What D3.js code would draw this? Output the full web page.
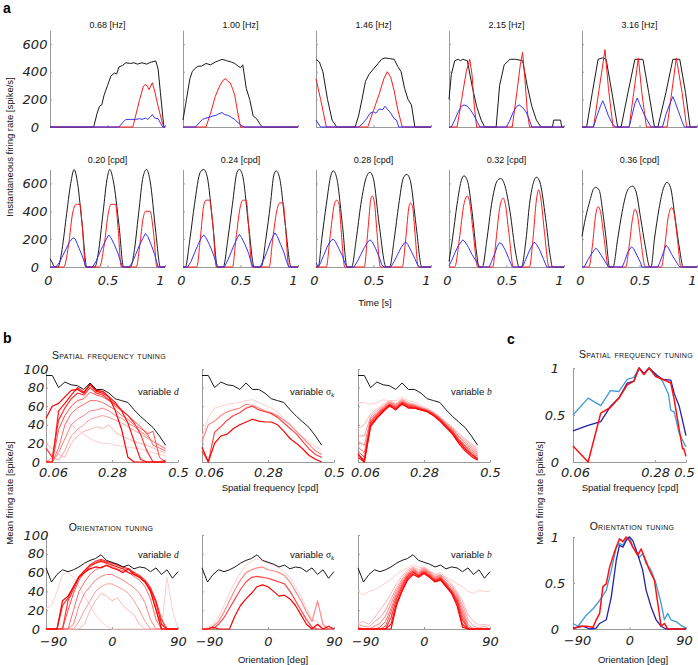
<!DOCTYPE html>
<html><head><meta charset="utf-8">
<script src="https://cdn.jsdelivr.net/npm/d3@7"></script>
<style>
body{margin:0;background:#fff}
svg{font-family:"Liberation Sans",Arial,sans-serif}
.tick text{font-family:"DejaVu Sans",sans-serif;font-style:oblique;font-size:13px;fill:#222}
.ttl{font-size:9px;fill:#111}
.lab{font-size:9.5px;fill:#111}
.sc{font-size:10.5px;font-variant:small-caps;fill:#111;letter-spacing:0.3px}
.pl{font-size:14px;font-weight:bold;fill:#000}
</style></head><body>
<svg id="c" width="698" height="665"></svg>
<script>
// ---------------- Panel a : titles ----------------
const topTitles = ["0.68 [Hz]","1.00 [Hz]","1.46 [Hz]","2.15 [Hz]","3.16 [Hz]"];
const botTitles = ["0.20 [cpd]","0.24 [cpd]","0.28 [cpd]","0.32 [cpd]","0.36 [cpd]"];
const aYTicks = [0,200,400,600];
const aXTicks = [0,0.5,1];

// [time (s), rate (spike/s)]
const hz068Black=[[0,0],[0.38,0],[0.41,100],[0.43,150],[0.45,160],[0.47,230],[0.5,300],[0.53,370],[0.56,390],[0.58,385],[0.6,435],[0.63,445],[0.66,465],[0.7,460],[0.73,465],[0.76,455],[0.8,465],[0.84,455],[0.88,470],[0.92,478],[0.94,420],[0.96,250],[0.99,0],[1,0]];
const hz068Red=[[0,0],[0.72,0],[0.75,100],[0.78,200],[0.81,290],[0.83,310],[0.85,290],[0.86,270],[0.89,320],[0.91,260],[0.94,150],[0.97,50],[0.99,0],[1,0]];
const hz068Blue=[[0,0],[0.6,0],[0.63,30],[0.66,55],[0.7,55],[0.74,55],[0.78,60],[0.8,55],[0.83,65],[0.85,55],[0.87,70],[0.89,90],[0.91,65],[0.94,60],[0.96,30],[0.98,0],[1,0]];

const hz100Black=[[0,50],[0.03,200],[0.06,350],[0.08,400],[0.1,420],[0.13,440],[0.16,440],[0.2,460],[0.24,450],[0.28,470],[0.31,480],[0.34,490],[0.38,480],[0.42,470],[0.45,460],[0.48,440],[0.5,430],[0.52,450],[0.55,280],[0.58,200],[0.61,80],[0.64,60],[0.67,20],[0.69,0],[1,0]];
const hz100Red=[[0,0],[0.2,0],[0.24,100],[0.28,220],[0.32,300],[0.35,340],[0.37,350],[0.39,330],[0.41,320],[0.43,280],[0.45,230],[0.47,130],[0.5,0],[1,0]];
const hz100Blue=[[0,0],[0.11,0],[0.14,30],[0.17,55],[0.2,65],[0.23,70],[0.26,80],[0.29,85],[0.31,95],[0.34,105],[0.36,90],[0.39,85],[0.42,70],[0.45,55],[0.48,30],[0.51,10],[0.53,0],[1,0]];

const hz146Black=[[0,490],[0.03,470],[0.06,400],[0.1,200],[0.14,50],[0.18,0],[0.34,0],[0.37,80],[0.4,200],[0.43,330],[0.46,380],[0.5,420],[0.54,460],[0.57,490],[0.6,500],[0.64,495],[0.68,490],[0.71,440],[0.74,400],[0.77,280],[0.8,200],[0.83,160],[0.86,0],[1,0]];
const hz146Red=[[0,350],[0.04,200],[0.09,0],[0.45,0],[0.5,120],[0.55,240],[0.59,350],[0.62,400],[0.65,360],[0.68,260],[0.71,130],[0.75,0],[1,0]];
const hz146Blue=[[0,50],[0.04,0],[0.37,0],[0.4,20],[0.44,60],[0.47,100],[0.5,110],[0.52,100],[0.55,130],[0.58,125],[0.6,150],[0.62,130],[0.65,100],[0.68,60],[0.7,50],[0.72,0],[1,0]];

const hz215Black=[[0,200],[0.02,380],[0.05,480],[0.08,490],[0.1,480],[0.12,490],[0.16,480],[0.2,300],[0.24,150],[0.28,50],[0.31,0],[0.41,0],[0.44,300],[0.48,450],[0.53,490],[0.58,490],[0.64,480],[0.68,300],[0.72,150],[0.76,50],[0.8,0],[0.9,0],[0.91,50],[0.97,50],[0.98,0],[1,0]];
const hz215Red=[[0,0],[0.07,0],[0.11,200],[0.15,400],[0.18,490],[0.2,380],[0.22,150],[0.24,0],[0.55,0],[0.59,250],[0.62,450],[0.64,540],[0.66,350],[0.68,120],[0.7,0],[1,0]];
const hz215Blue=[[0,0],[0.02,0],[0.05,50],[0.08,110],[0.11,150],[0.13,160],[0.16,150],[0.19,120],[0.22,80],[0.25,30],[0.27,0],[0.5,0],[0.53,50],[0.56,110],[0.59,150],[0.61,160],[0.64,140],[0.67,110],[0.7,50],[0.72,0],[1,0]];

const hz316Black=[[0,0],[0.04,0],[0.09,250],[0.14,490],[0.18,500],[0.21,490],[0.26,250],[0.31,0],[0.34,0],[0.4,250],[0.46,490],[0.53,490],[0.58,250],[0.63,0],[0.66,0],[0.73,250],[0.79,490],[0.85,490],[0.9,250],[0.94,0],[1,0]];
const hz316Red=[[0,0],[0.1,0],[0.15,280],[0.2,560],[0.23,280],[0.27,0],[0.41,0],[0.45,250],[0.49,500],[0.52,250],[0.56,0],[0.74,0],[0.78,250],[0.82,500],[0.87,250],[0.91,0],[1,0]];
const hz316Blue=[[0,0],[0.1,0],[0.13,80],[0.16,150],[0.18,190],[0.2,150],[0.23,80],[0.26,30],[0.29,0],[0.41,0],[0.44,100],[0.46,170],[0.48,210],[0.5,170],[0.53,110],[0.56,60],[0.6,0],[0.7,0],[0.73,90],[0.76,160],[0.79,220],[0.81,180],[0.84,110],[0.87,40],[0.89,0],[1,0]];

const cpd020Black=[[0,60],[0.02,30],[0.04,0],[0.07,0],[0.1,100],[0.14,350],[0.18,600],[0.21,700],[0.24,600],[0.28,300],[0.32,0],[0.39,0],[0.42,100],[0.46,380],[0.5,650],[0.52,700],[0.55,620],[0.6,300],[0.64,0],[0.7,0],[0.73,100],[0.77,380],[0.81,650],[0.84,700],[0.87,620],[0.92,250],[0.96,0],[1,0]];
const cpd020Red=[[0,0],[0.12,0],[0.16,150],[0.2,400],[0.23,450],[0.26,450],[0.28,300],[0.31,0],[0.43,0],[0.47,150],[0.51,400],[0.53,450],[0.57,450],[0.59,300],[0.62,0],[0.75,0],[0.78,150],[0.81,350],[0.83,400],[0.87,400],[0.9,250],[0.93,0],[1,0]];
const cpd020Blue=[[0,0],[0.05,0],[0.08,30],[0.11,80],[0.14,130],[0.17,180],[0.2,210],[0.22,200],[0.24,160],[0.26,120],[0.28,80],[0.3,30],[0.31,0],[0.37,0],[0.4,40],[0.43,100],[0.46,150],[0.49,200],[0.51,230],[0.53,210],[0.56,160],[0.59,100],[0.61,50],[0.63,0],[0.69,0],[0.72,40],[0.75,100],[0.78,160],[0.81,210],[0.83,240],[0.85,220],[0.88,160],[0.91,90],[0.93,30],[0.94,0],[1,0]];

const cpd024Black=[[0,0],[0.02,0],[0.06,200],[0.1,450],[0.15,680],[0.18,700],[0.21,650],[0.26,300],[0.3,0],[0.35,0],[0.39,200],[0.43,450],[0.47,680],[0.49,700],[0.52,650],[0.57,300],[0.62,0],[0.68,0],[0.72,200],[0.76,450],[0.79,660],[0.81,690],[0.84,640],[0.89,300],[0.94,0],[1,0]];
const cpd024Red=[[0,0],[0.12,0],[0.15,200],[0.18,440],[0.2,480],[0.23,480],[0.26,300],[0.29,0],[0.43,0],[0.46,200],[0.5,440],[0.52,480],[0.55,480],[0.57,300],[0.6,0],[0.75,0],[0.78,200],[0.82,420],[0.84,460],[0.87,460],[0.89,300],[0.92,0],[1,0]];
const cpd024Blue=[[0,0],[0.04,0],[0.07,40],[0.1,100],[0.13,160],[0.16,210],[0.18,230],[0.2,210],[0.23,160],[0.26,100],[0.28,50],[0.3,0],[0.36,0],[0.39,50],[0.42,110],[0.45,170],[0.48,220],[0.49,235],[0.51,210],[0.54,160],[0.57,100],[0.59,40],[0.61,0],[0.67,0],[0.7,50],[0.73,110],[0.76,180],[0.79,230],[0.8,245],[0.82,220],[0.85,160],[0.88,100],[0.9,40],[0.92,0],[1,0]];

const cpd028Black=[[0,0],[0.02,0],[0.05,200],[0.09,450],[0.13,660],[0.15,690],[0.18,640],[0.23,300],[0.27,0],[0.31,0],[0.35,200],[0.39,450],[0.44,650],[0.47,680],[0.5,630],[0.55,300],[0.61,0],[0.64,0],[0.68,200],[0.72,450],[0.76,640],[0.79,665],[0.82,620],[0.87,300],[0.92,0],[1,0]];
const cpd028Red=[[0,0],[0.09,0],[0.12,200],[0.16,450],[0.18,480],[0.2,450],[0.22,250],[0.25,0],[0.42,0],[0.45,250],[0.48,500],[0.49,510],[0.51,450],[0.53,250],[0.56,0],[0.75,0],[0.78,200],[0.81,440],[0.82,460],[0.84,430],[0.86,250],[0.89,0],[1,0]];
const cpd028Blue=[[0,30],[0.02,0],[0.04,30],[0.07,90],[0.1,150],[0.13,190],[0.15,200],[0.17,180],[0.2,130],[0.23,80],[0.25,30],[0.27,0],[0.33,0],[0.36,40],[0.39,90],[0.42,140],[0.45,180],[0.47,195],[0.49,180],[0.52,130],[0.55,70],[0.57,20],[0.59,0],[0.65,0],[0.68,40],[0.71,90],[0.74,140],[0.77,175],[0.78,180],[0.8,160],[0.83,110],[0.86,60],[0.88,20],[0.9,0],[1,0]];

const cpd032Black=[[0,40],[0.03,200],[0.07,450],[0.11,630],[0.13,655],[0.16,620],[0.2,400],[0.24,100],[0.26,0],[0.29,0],[0.33,200],[0.37,450],[0.42,620],[0.45,635],[0.48,600],[0.53,400],[0.58,100],[0.61,0],[0.63,0],[0.67,200],[0.7,450],[0.74,620],[0.76,645],[0.79,610],[0.84,350],[0.88,80],[0.9,0],[1,0]];
const cpd032Red=[[0,0],[0.05,0],[0.09,200],[0.13,450],[0.16,510],[0.18,460],[0.21,250],[0.25,0],[0.38,0],[0.41,200],[0.44,420],[0.47,495],[0.49,450],[0.52,250],[0.56,0],[0.7,0],[0.73,200],[0.76,480],[0.78,555],[0.8,480],[0.83,250],[0.87,0],[1,0]];
const cpd032Blue=[[0,10],[0.02,40],[0.05,100],[0.08,150],[0.11,185],[0.12,195],[0.14,180],[0.17,140],[0.2,90],[0.23,50],[0.25,20],[0.27,0],[0.35,0],[0.37,40],[0.4,100],[0.42,150],[0.44,175],[0.46,165],[0.49,120],[0.52,60],[0.55,0],[0.64,0],[0.66,40],[0.69,100],[0.72,150],[0.74,178],[0.76,165],[0.79,120],[0.82,60],[0.85,0],[1,0]];

const cpd036Black=[[0,220],[0.03,350],[0.07,480],[0.1,560],[0.12,572],[0.15,550],[0.18,400],[0.21,200],[0.24,0],[0.27,0],[0.31,200],[0.35,400],[0.39,540],[0.42,575],[0.44,580],[0.47,540],[0.51,350],[0.55,150],[0.59,0],[0.6,0],[0.63,200],[0.67,420],[0.71,570],[0.74,608],[0.77,570],[0.81,350],[0.85,120],[0.88,0],[1,0]];
const cpd036Red=[[0,0],[0.06,0],[0.09,150],[0.12,380],[0.14,433],[0.16,400],[0.19,220],[0.23,0],[0.38,0],[0.41,150],[0.44,350],[0.46,414],[0.48,380],[0.51,200],[0.55,0],[0.69,0],[0.72,150],[0.75,360],[0.78,426],[0.8,390],[0.83,200],[0.86,0],[1,0]];
const cpd036Blue=[[0,0],[0.02,0],[0.05,50],[0.08,90],[0.11,125],[0.12,135],[0.14,120],[0.17,80],[0.2,40],[0.23,0],[0.35,0],[0.37,40],[0.4,110],[0.43,145],[0.45,130],[0.48,80],[0.51,30],[0.52,0],[0.66,0],[0.68,40],[0.71,110],[0.73,155],[0.75,140],[0.78,90],[0.81,50],[0.84,10],[0.85,0],[1,0]];

// ---------------- Panel b ----------------
const bSfX=[0.06,0.081,0.102,0.123,0.144,0.165,0.186,0.207,0.228,0.249,0.27,0.291,0.312,0.333,0.354,0.375,0.396,0.417,0.438,0.459];
const bSfTicks=[0.06,0.28,0.5];
const bYTicks=[0,20,40,60,80,100];
const bSfBlack=[93,93,80,86,83,82,78,85,78,78,74,68,66,64,56,49,43,37,28,18];
// variable d (dark -> light)
const bSfD=[
 [47,60,63,70,77,78,74,84,77,76,70,55,35,5,0,0,0,0,0,0],
 [0,0,55,63,72,80,75,83,76,74,70,64,55,42,22,3,0,0,0,0],
 [15,5,45,58,68,74,72,80,74,72,67,62,56,50,42,30,12,0,0,2],
 [0,0,35,50,60,66,68,75,72,70,66,60,55,50,44,38,30,33,5,0],
 [0,0,15,40,52,58,62,66,66,64,60,56,50,46,40,36,32,18,15,12],
 [2,0,10,25,40,46,50,55,56,58,55,50,47,42,38,33,28,22,18,14],
 [0,5,2,12,28,35,40,46,48,50,48,45,42,38,34,30,26,22,18,15],
 [20,14,8,5,20,28,33,35,38,36,40,32,28,25,22,20,18,15,12,10],
 [55,60,52,45,40,35,30,25,22,20,20,18,17,16,15,14,12,10,8,7]];
// variable sigma_k (dark -> light)
const bSfSigma=[
 [16,0,20,28,30,36,40,43,46,44,43,43,40,33,25,20,14,7,3,0],
 [12,0,32,38,45,50,53,58,60,56,54,52,48,42,36,30,22,14,8,5],
 [22,40,44,50,54,56,58,62,61,58,55,53,50,45,40,33,26,19,12,8],
 [27,48,58,60,62,63,64,66,67,64,61,58,54,47,40,33,27,22,17,13]];
// variable b (dark -> light)
const bSfB=[
 [9,0,38,47,54,61,56,63,58,58,56,54,50,44,37,30,20,12,6,2],
 [5,0,40,48,55,60,57,62,59,58,56,54,50,45,38,31,22,14,8,3],
 [8,2,42,50,56,62,58,64,60,59,57,55,51,46,39,32,23,15,9,4],
 [12,5,44,51,57,62,59,64,61,60,57,55,52,46,39,33,24,17,11,6],
 [16,10,45,52,58,63,60,65,62,60,58,56,52,47,40,34,25,18,13,8],
 [22,18,47,53,59,64,61,66,62,61,58,56,52,47,41,35,27,20,15,10],
 [28,28,49,55,60,65,62,67,63,61,59,56,53,48,42,36,28,22,17,12],
 [36,40,52,57,62,66,63,68,64,62,59,57,53,48,42,37,30,24,19,14],
 [64,64,62,64,67,66,66,70,66,64,61,58,54,49,43,38,31,25,20,15]];

const oriX=[-90,-82.5,-75,-67.5,-60,-52.5,-45,-37.5,-30,-22.5,-15,-7.5,0,7.5,15,22.5,30,37.5,45,52.5,60,67.5,75,82.5,90];
const oriTicks=[-90,0,90];
const bOriBlack=[65,50,58,63,61,63,66,70,73,75,79,73,71,69,66,68,64,66,65,61,65,58,63,54,61];
const bOriD=[
 [0,0,0,30,35,45,55,60,64,66,65,68,65,63,60,64,58,55,50,40,20,0,0,0,0],
 [0,0,0,25,33,45,56,62,68,70,72,70,68,66,64,60,58,55,50,42,28,5,0,0,0],
 [0,0,0,0,30,42,55,62,68,72,74,72,70,68,66,64,60,57,52,44,30,10,0,0,0],
 [0,0,0,0,20,38,52,60,66,70,73,71,70,68,66,63,60,56,50,40,22,0,0,0,0],
 [0,0,0,0,0,20,40,50,58,63,66,67,66,64,62,60,56,52,45,32,10,0,0,0,0],
 [0,0,0,0,0,5,25,38,45,52,56,58,58,55,52,48,44,38,28,10,0,0,0,0,0],
 [0,0,0,0,0,0,8,20,30,40,45,48,48,45,42,38,30,20,8,0,0,0,0,0,0],
 [0,0,0,0,0,0,0,5,20,30,38,35,30,33,25,20,15,5,0,0,0,0,0,0,0],
 [22,25,40,58,60,55,45,35,25,15,8,3,0,0,0,0,0,0,0,0,0,0,55,20,0]];
const bOriSigma=[
 [0,0,2,0,0,0,14,25,32,38,45,47,45,40,35,36,32,25,15,5,0,5,0,3,0],
 [0,0,0,5,12,22,32,42,50,55,56,55,54,52,50,48,40,30,20,10,2,0,0,0,0],
 [0,0,3,8,18,30,42,52,60,63,65,66,63,62,60,57,50,40,30,18,8,30,5,0,0],
 [0,2,5,12,25,38,50,60,68,72,75,72,70,68,65,60,55,45,35,22,10,8,3,0,0]];
const bOriB=[
 [0,0,0,0,0,0,0,25,40,52,58,55,59,55,50,52,45,38,25,2,0,0,0,0,0],
 [0,0,0,0,0,0,5,28,42,54,60,56,60,56,51,53,46,39,28,5,0,0,0,0,0],
 [0,0,0,0,0,0,12,32,45,56,61,57,61,57,52,54,47,40,30,10,0,0,0,0,0],
 [0,0,0,0,0,3,18,35,47,57,62,58,62,58,53,55,48,41,32,14,0,0,0,0,0],
 [0,0,0,0,2,8,22,38,49,58,63,59,63,59,54,56,49,42,34,18,2,0,0,0,0],
 [2,0,0,3,6,14,27,41,51,59,64,60,64,60,55,57,50,44,36,22,5,0,0,0,0],
 [5,3,2,8,12,20,32,44,53,61,65,61,65,61,56,58,52,46,38,26,10,3,1,3,0],
 [6,8,5,12,20,28,38,48,56,63,66,63,66,62,58,60,54,48,40,30,15,8,4,5,3],
 [40,36,40,42,45,49,53,58,62,65,68,66,64,61,58,56,55,52,48,45,40,38,41,40,40]];

// ---------------- Panel c ----------------
const cSfTicks=[0.06,0.28,0.5];
const cYTicks=[0,0.5,1];
const cSfLight=[[0.06,0.5],[0.0797,0.68],[0.101,0.6],[0.121,0.76],[0.142,0.75],[0.166,0.88],[0.188,0.9],[0.207,1],[0.227,0.94],[0.25,1],[0.283,0.94],[0.322,0.86],[0.36,0.72],[0.376,0.55],[0.401,0.53],[0.441,0.3],[0.5,0.16]];
const cSfDark=[[0.06,0.33],[0.0797,0.39],[0.101,0.43],[0.121,0.59],[0.142,0.68],[0.166,0.84],[0.188,0.86],[0.207,1],[0.227,0.94],[0.25,1],[0.283,0.93],[0.322,0.88],[0.376,0.87],[0.401,0.73],[0.441,0.59],[0.5,0.28]];
const cSfRed=[[0.06,0.17],[0.0797,0],[0.101,0.52],[0.121,0.58],[0.142,0.68],[0.166,0.82],[0.188,0.86],[0.207,1],[0.227,0.93],[0.25,1],[0.283,0.91],[0.322,0.88],[0.376,0.84],[0.401,0.66],[0.441,0.34],[0.469,0.14],[0.48,0.14],[0.5,0.06]];
const cOriLight=[[-90,0.06],[-82,0.03],[-68.8,0.15],[-58,0.22],[-47.6,0.31],[-37,0.42],[-29,0.64],[-21,0.89],[-16,0.93],[-10.6,0.91],[-5.3,0.98],[0,1],[5.3,0.89],[10.6,0.84],[15.9,0.78],[21,0.82],[26.5,0.71],[34.4,0.64],[42.4,0.49],[50.3,0.28],[55.6,0.1],[60.9,0.17],[66,0.1],[74,0.08],[82,0.04],[90,0.01]];
const cOriDark=[[-90,0.01],[-74,0.03],[-63.5,0],[-53,0.01],[-47.6,0.06],[-37,0.1],[-29,0.35],[-21,0.75],[-16,0.91],[-10.6,0.89],[-5.3,0.96],[0,1],[5.3,0.96],[10.6,0.86],[15.9,0.75],[21,0.64],[26.5,0.42],[34.4,0.24],[42.4,0.1],[50.3,0.03],[58,0],[90,0]];
const cOriRed=[[-90,0],[-79.4,0.03],[-68.8,0.03],[-58,0.02],[-53,0.1],[-47.6,0.17],[-42.4,0.46],[-37,0.49],[-31.8,0.67],[-23.8,0.84],[-16,0.98],[-10.6,0.95],[-5.3,1],[0,0.96],[5.3,0.89],[13.2,0.8],[18.5,0.87],[23.8,0.78],[31.8,0.64],[39.7,0.53],[45,0.28],[50.3,0.03],[55.6,0.06],[60.9,0],[90,0]];

// =============== drawing ===============
const svg=d3.select("#c");
const gray="#9a9a9a";
function styleAxis(ax){ax.select(".domain").attr("stroke",gray);ax.selectAll(".tick line").attr("stroke",gray);}
function yAxis(x0,y,vals,labels,off){
  const ax=svg.append("g").attr("transform",`translate(${x0},0)`)
   .call(d3.axisLeft(y).tickValues(vals).tickSizeInner(-2).tickSizeOuter(0).tickFormat(labels?d3.format("~g"):""));
  styleAxis(ax);ax.selectAll("text").attr("text-anchor","middle").attr("x",-off);
}
// shifts: [first label dx, last label dx]
function xAxis(y0,x,vals,labels,pad,shifts){
  const ax=svg.append("g").attr("transform",`translate(0,${y0})`)
   .call(d3.axisBottom(x).tickValues(vals).tickSizeInner(-2).tickSizeOuter(0).tickPadding(pad).tickFormat(labels?d3.format("~g"):""));
  styleAxis(ax);
  if(shifts){
    const n=vals.length;
    ax.selectAll("text").attr("dx",(d,i)=>i===0?shifts[0]:(i===n-1?shifts[1]:0));
  }
}
function path(data,x,y,color,w,curve){
  svg.append("path").datum(data).attr("fill","none").attr("stroke",color).attr("stroke-width",w)
   .attr("stroke-linejoin","round")
   .attr("d",d3.line().x(d=>x(d[0])).y(d=>y(d[1])).curve(curve||d3.curveLinear));
}

// Panel a
const aLefts=[50,183,316,449,582];
const aW=115;
const aRows=[
 {top:30.3,bot:127,titleY:28,titles:topTitles,sets:[[hz068Black,hz068Red,hz068Blue],[hz100Black,hz100Red,hz100Blue],[hz146Black,hz146Red,hz146Blue],[hz215Black,hz215Red,hz215Blue],[hz316Black,hz316Red,hz316Blue]],labels:false,smooth:false},
 {top:169.5,bot:267,titleY:163,titles:botTitles,sets:[[cpd020Black,cpd020Red,cpd020Blue],[cpd024Black,cpd024Red,cpd024Blue],[cpd028Black,cpd028Red,cpd028Blue],[cpd032Black,cpd032Red,cpd032Blue],[cpd036Black,cpd036Red,cpd036Blue]],labels:true,smooth:true}];
aRows.forEach(r=>{
  aLefts.forEach((L,i)=>{
    const x=d3.scaleLinear([0,1],[L,L+aW]);
    const y=d3.scaleLinear([0,700],[r.bot,r.top]);
    yAxis(L,y,aYTicks,i===0,15);
    xAxis(r.bot,x,aXTicks,r.labels,9,[-2,-5]);
    const [bk,rd,bl]=r.sets[i];
    path(bk,x,y,"#1a1a1a",1,r.smooth?d3.curveMonotoneX:d3.curveLinear);
    path(rd,x,y,"#ff1a1a",1,r.smooth?d3.curveMonotoneX:d3.curveLinear);
    path(bl,x,y,"#3333ff",1);
    svg.append("text").attr("class","ttl").attr("x",L+aW/2).attr("y",r.titleY).attr("text-anchor","middle").text(r.titles[i]);
  });
});
svg.append("text").attr("class","lab").attr("x",375).attr("y",306).attr("text-anchor","middle").text("Time [s]");
svg.append("text").attr("class","lab").attr("transform","translate(13,147) rotate(-90)").attr("text-anchor","middle").text("Instantaneous firing rate [spike/s]");

// Panel b
const bLefts=[46,202,358];
const bW=132;
const redShade=(i,n)=>d3.interpolateRgb("#ff0000","#ffcfcf")(n>1?i/(n-1):0);
function bPanel(L,top,bot,xs,xScaleDom,ticks,black,reds,showY,pad){
  const x=d3.scaleLinear(xScaleDom,[L,L+bW]);
  const y=d3.scaleLinear([0,100],[bot,top]);
  yAxis(L,y,bYTicks,showY,10);
  xAxis(bot,x,ticks,true,pad,[7,0]);
  const n=reds.length;
  for(let i=n-1;i>=0;i--){
    path(reds[i].map((v,j)=>[xs[j],v]),x,y,redShade(i,n),i<3?1.2:1);
  }
  path(black.map((v,j)=>[xs[j],v]),x,y,"#1a1a1a",1);
}
const sfSets=[bSfD,bSfSigma,bSfB];
const oriSets=[bOriD,bOriSigma,bOriB];
bLefts.forEach((L,i)=>{
  bPanel(L,369,462,bSfX,[0.06,0.5],bSfTicks,bSfBlack,sfSets[i],i===0,6);
  bPanel(L,535,629,oriX,[-90,90],oriTicks,bOriBlack,oriSets[i],i===0,8);
});
function varLabel(x,y,kind){
  const t=svg.append("text").attr("class","lab").attr("x",x).attr("y",y).attr("font-size","10px");
  t.append("tspan").text("variable ");
  if(kind==="d") t.append("tspan").attr("font-family","Liberation Serif").attr("font-style","italic").text("d");
  if(kind==="b") t.append("tspan").attr("font-family","Liberation Serif").attr("font-style","italic").text("b");
  if(kind==="s"){t.append("tspan").attr("font-family","Liberation Serif").text("σ");
    t.append("tspan").attr("font-family","Liberation Serif").attr("font-style","italic").attr("font-size","7px").attr("dy",2).text("k");}
}
[["d",138],["s",290],["b",451]].forEach(([k,x])=>{varLabel(x,395,k);varLabel(x,558,k);});
svg.append("text").attr("class","sc").attr("x",109).attr("y",359).attr("text-anchor","middle").text("Spatial frequency tuning");
svg.append("text").attr("class","sc").attr("x",111).attr("y",531).attr("text-anchor","middle").text("Orientation tuning");
svg.append("text").attr("class","lab").attr("x",270).attr("y",491).attr("text-anchor","middle").text("Spatial frequency [cpd]");
svg.append("text").attr("class","lab").attr("x",273).attr("y",663).attr("text-anchor","middle").text("Orientation [deg]");
svg.append("text").attr("class","lab").attr("transform","translate(13,493) rotate(-90)").attr("text-anchor","middle").text("Mean firing rate [spike/s]");

// Panel c
{
  const L=573,R=686;
  const x1=d3.scaleLog([0.06,0.5],[L,R]);
  const y1=d3.scaleLinear([0,1],[462,368]);
  yAxis(L,y1,cYTicks,true,18);
  xAxis(462,x1,cSfTicks,true,6,[2,-2]);
  path(cSfLight,x1,y1,"#3f9ad8",1.3);
  path(cSfDark,x1,y1,"#2222aa",1.3);
  path(cSfRed,x1,y1,"#ff1010",1.5);
  const x2=d3.scaleLinear([-90,90],[L,R]);
  const y2=d3.scaleLinear([0,1],[629,537]);
  yAxis(L,y2,cYTicks,true,18);
  xAxis(629,x2,oriTicks,true,7,[4,-2]);
  path(cOriLight,x2,y2,"#3f9ad8",1.3);
  path(cOriDark,x2,y2,"#2222aa",1.3);
  path(cOriRed,x2,y2,"#ff1010",1.5);
  svg.append("text").attr("class","sc").attr("x",636).attr("y",358).attr("text-anchor","middle").text("Spatial frequency tuning");
  svg.append("text").attr("class","sc").attr("x",632).attr("y",530).attr("text-anchor","middle").text("Orientation tuning");
  svg.append("text").attr("class","lab").attr("x",630).attr("y",491).attr("text-anchor","middle").text("Spatial frequency [cpd]");
  svg.append("text").attr("class","lab").attr("x",633).attr("y",663).attr("text-anchor","middle").text("Orientation [deg]");
  svg.append("text").attr("class","lab").attr("transform","translate(543,493) rotate(-90)").attr("text-anchor","middle").text("Mean firing rate [spike/s]");
}
// Panel letters
svg.append("text").attr("class","pl").attr("x",3).attr("y",13).text("a");
svg.append("text").attr("class","pl").attr("x",3).attr("y",343).text("b");
svg.append("text").attr("class","pl").attr("x",507).attr("y",344).text("c");
</script></body></html>
